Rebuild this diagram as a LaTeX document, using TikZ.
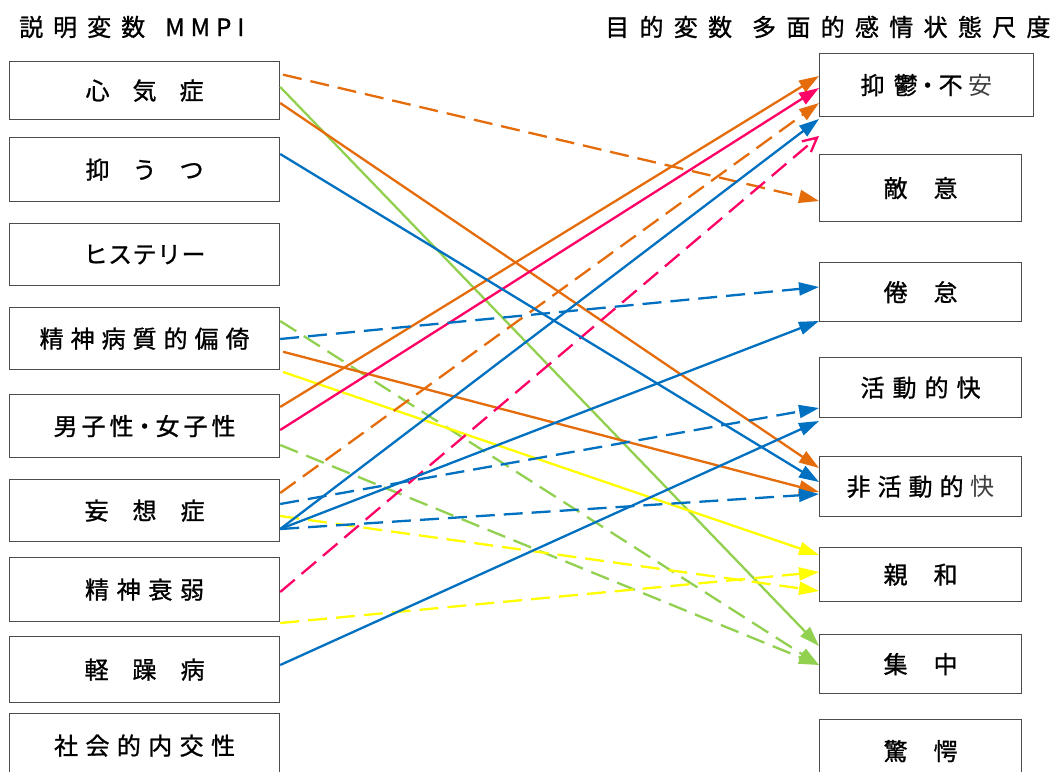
\documentclass[tikz,border=0pt]{standalone}
\usepackage{fontspec}
\newfontfamily\jp[FakeBold=1]{Noto Sans CJK JP}
\newfontfamily\jpthin{Noto Sans CJK JP}
\usetikzlibrary{arrows.meta}
\definecolor{cOr}{HTML}{E46C0A}
\definecolor{cMg}{HTML}{FF0066}
\definecolor{cBl}{HTML}{0070C0}
\definecolor{cGr}{HTML}{92D050}
\definecolor{cYe}{HTML}{FFFF00}
\def\jpls#1#2{\def\lskern{#1}\jplsA#2\relax}
\def\jplsA#1{\ifx#1\relax\unkern\else#1\kern\lskern\expandafter\jplsA\fi}
\def\ndot{\kern-5pt・\kern-5pt}
\def\thinch#1{{\jpthin\textcolor{black!75}{#1}}}
\tikzset{
  box/.style={draw=black!70, line width=1.2pt, inner sep=0pt, anchor=north west,
    font={\jp\fontsize{24}{28}\selectfont}, text=black},
  lbox/.style={box, minimum width=270pt},
  rbox/.style={box, minimum width=202pt},
  ttl/.style={anchor=west, inner sep=0pt, font={\jp\fontsize{24}{28}\selectfont}},
  con/.style={line width=2.3pt, -{Triangle[length=20pt,width=13pt]}},
  dsh/.style={dash pattern=on 19pt off 9pt},
  opentip/.style={-{Straight Barb[length=14pt,width=14pt,line width=2.3pt]}},
}
\begin{document}
\begin{tikzpicture}[x=1pt,y=-1pt]
\useasboundingbox (0,0) rectangle (1062,771);
\fill[white] (0,0) rectangle (1062,771);
% titles
\node[ttl] (t1) at (19,27) {\jpls{10pt}{説明変数}\kern20pt\jpls{6pt}{MMPI}};
\node[ttl] (t2) at (605,27) {\jpls{10.3pt}{目的変数}\kern20pt\jpls{10.3pt}{多面的感情状態尺度}};
% left boxes
\node[lbox, minimum height=58pt] (L1) at (9,61) {\jpls{23pt}{心気症}};
\node[lbox, minimum height=64pt] (L2) at (9,137) {\jpls{23pt}{抑うつ}};
\node[lbox, minimum height=62pt] (L3) at (9,223) {\jpls{0.5pt}{ヒステリー}};
\node[lbox, minimum height=62pt] (L4) at (9,307) {\jpls{7pt}{精神病質的偏倚}};
\node[lbox, minimum height=63pt] (L5) at (9,394) {\jpls{4pt}{男子性\ndot 女子性}};
\node[lbox, minimum height=62pt] (L6) at (9,479) {\jpls{24pt}{妄想症}};
\node[lbox, minimum height=64pt] (L7) at (9,557) {\jpls{7.7pt}{精神衰弱}};
\node[lbox, minimum height=66pt] (L8) at (9,636) {\jpls{24pt}{軽躁病}};
\node[lbox, minimum height=64pt] (L9) at (9,713) {\jpls{7.4pt}{社会的内交性}};
% right boxes
\node[box, minimum width=214pt, minimum height=63pt] (R1) at (819,53) {抑\kern9pt 鬱\kern-2pt ・\kern-1pt 不\kern6pt \thinch{安}};
\node[rbox, minimum height=67pt] (R2) at (819,154) {\jpls{26pt}{敵意}};
\node[rbox, minimum height=59pt] (R3) at (819,262) {\jpls{26pt}{倦怠}};
\node[rbox, minimum height=60pt] (R4) at (819,357) {\jpls{8pt}{活動的快}};
\node[rbox, minimum height=60pt] (R5) at (819,456) {\jpls{7pt}{非活動的}\kern7pt\thinch{快}};
\node[rbox, minimum height=54pt] (R6) at (819,547) {\jpls{26pt}{親和}};
\node[rbox, minimum height=59pt] (R7) at (819,634) {\jpls{26pt}{集中}};
\node[rbox, minimum height=63pt] (R8) at (819,719) {\jpls{26pt}{驚愕}};
% connectors
\draw[con, cGr] (L1.east |- 0,87) -- (R7.west |- 0,646);
\draw[con, cGr, dsh] (L4.east |- 0,321) -- (R7.west |- 0,665);
\draw[con, cGr, dsh] (L5.east |- 0,445) -- (R7.west |- 0,665);
\draw[con, cYe, shorten <=3pt] (L4.east |- 0,371) -- (R6.west |- 0,555);
\draw[con, cYe, dsh] (L6.east |- 0,516) -- (R6.west |- 0,591);
\draw[con, cYe, dsh] (L7.east |- 0,623) -- (R6.west |- 0,572);
\draw[con, cOr, dsh, shorten <=3pt] (L1.east |- 0,74) -- (R2.west |- 0,201);
\draw[con, cOr] (L1.east |- 0,103) -- (R5.west |- 0,468);
\draw[con, cOr, shorten <=3pt] (L4.east |- 0,351) -- (R5.west |- 0,492);
\draw[con, cOr] (L5.east |- 0,407) -- (R1.west |- 0,76);
\draw[con, cOr, dsh] (L6.east |- 0,493) -- (R1.west |- 0,103);
\draw[con, cMg] (L5.east |- 0,430) -- (R1.west |- 0,88);
\draw[con, cMg, dsh, opentip] (L7.east |- 0,592) -- (R1.west |- 0,136);
\draw[con, cBl] (L2.east |- 0,154) -- (R5.west |- 0,482);
\draw[con, cBl, dsh] (L4.east |- 0,339) -- (R3.west |- 0,287);
\draw[con, cBl, dsh] (L6.east |- 0,504) -- (R4.west |- 0,408);
\draw[con, cBl] (L6.east |- 0,529) -- (R1.west |- 0,119);
\draw[con, cBl] (L6.east |- 0,529) -- (R3.west |- 0,321);
\draw[con, cBl, dsh] (L6.east |- 0,529) -- (R5.west |- 0,494);
\draw[con, cBl] (L8.east |- 0,665) -- (R4.west |- 0,421);
\end{tikzpicture}
\end{document}
